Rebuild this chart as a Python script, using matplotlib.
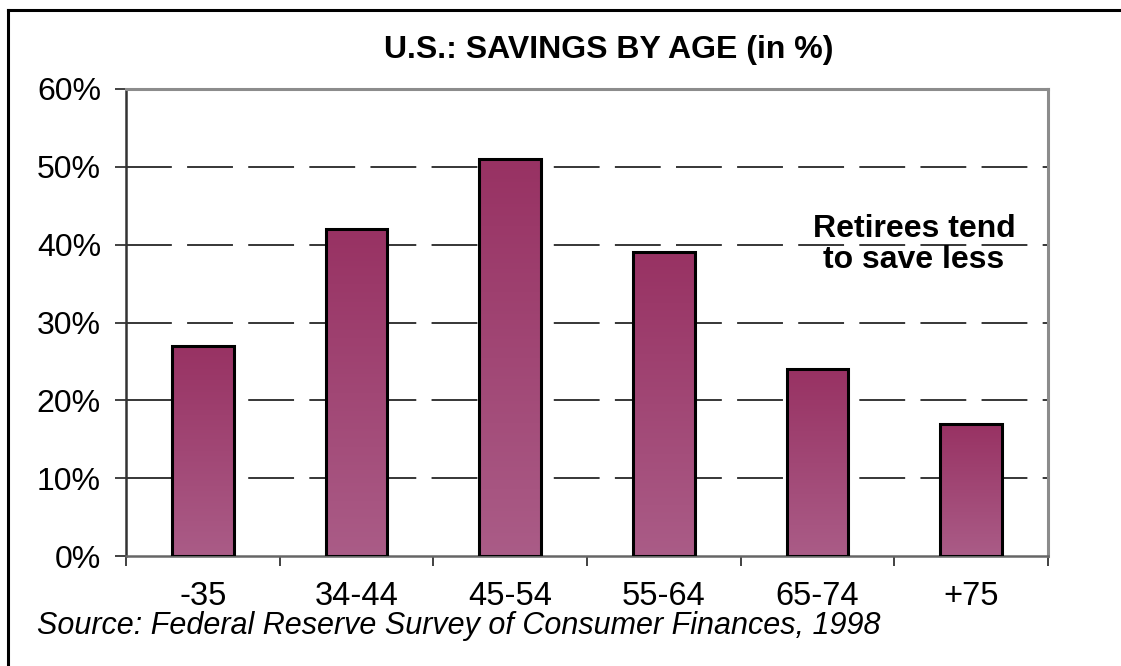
import numpy as np
import matplotlib
matplotlib.use("Agg")
import matplotlib.pyplot as plt
from matplotlib.colors import LinearSegmentedColormap
from matplotlib.lines import Line2D

# data
age_groups = ["-35", "34-44", "45-54", "55-64", "65-74", "+75"]
savings_pct = [27, 42, 51, 39, 24, 17]
y_ticks = [0, 10, 20, 30, 40, 50, 60]

plt.rcParams['font.family'] = ['Liberation Sans', 'DejaVu Sans']

W, H = 1121, 666
fig = plt.figure(figsize=(W / 100, H / 100), dpi=100)
fig.patch.set_facecolor("white")

# axes box in pixels: left 126, right 1048, top 89, bottom 556
ax = fig.add_axes([126 / W, (H - 556) / H, (1048 - 126) / W, (556 - 89) / H])

n = len(age_groups)
centers = np.arange(n) + 0.5
bar_w = 0.4

# gradient: dark magenta at top, lighter at bottom
cmap = LinearSegmentedColormap.from_list("bar", ["#aa5c87", "#983263"])
grad = np.linspace(0, 1, 256).reshape(-1, 1)

bars = ax.bar(centers, savings_pct, width=bar_w, facecolor="none",
              edgecolor="black", linewidth=2.2, zorder=4)
for b in bars:
    x0, y0 = b.get_x(), b.get_y()
    w, h = b.get_width(), b.get_height()
    im = ax.imshow(grad, cmap=cmap, aspect="auto", origin="lower",
                   extent=[x0, x0 + w, y0, y0 + h], zorder=3)
    im.set_clip_path(b)

# dashed grid lines
for t in y_ticks[1:-1]:
    ax.axhline(t, color="black", linewidth=1.1, linestyle=(0, (30, 10)), zorder=1)

ax.set_xlim(0, n)
ax.set_ylim(0, 60)

ax.set_yticks(y_ticks)
ax.set_yticklabels([f"{t}%" for t in y_ticks])
ax.tick_params(axis="y", direction="out", length=8, width=1.3, color="#333333",
               labelsize=23, pad=10)

ax.set_xticks(np.arange(n + 1))
ax.set_xticklabels([])
ax.tick_params(axis="x", which="major", direction="out", length=7.5, width=1.3,
               color="#333333")
ax.set_xticks(centers, minor=True)
ax.set_xticklabels(age_groups, minor=True)
ax.tick_params(axis="x", which="minor", length=0, labelsize=23.5, pad=18)

ax.spines["left"].set_color("#333333")
ax.spines["left"].set_linewidth(1.8)
ax.spines["bottom"].set_color("#666666")
ax.spines["bottom"].set_linewidth(1.8)
for s in ["top", "right"]:
    ax.spines[s].set_color("#8c8c8c")
    ax.spines[s].set_linewidth(2.2)

fig.text(609 / W, 1 - 58 / H, "U.S.: SAVINGS BY AGE (in %)", ha="center",
         va="baseline", fontsize=23, fontweight="bold")

fig.text(914 / W, 1 - 237 / H, "Retirees tend", ha="center", va="baseline",
         fontsize=23, fontweight="bold", zorder=5)
fig.text(914 / W, 1 - 268 / H, "to save less", ha="center", va="baseline",
         fontsize=23, fontweight="bold", zorder=5)

fig.text(37 / W, 1 - 634 / H, "Source: Federal Reserve Survey of Consumer Finances, 1998",
         ha="left", va="baseline", fontsize=22, style="italic")

# outer frame (top and left edges visible)
fig.add_artist(Line2D([7.5 / W, 7.5 / W], [0, 1 - 10 / H], color="black", linewidth=2.2))
fig.add_artist(Line2D([7.5 / W, 1], [1 - 10 / H, 1 - 10 / H], color="black", linewidth=2.2))

fig.savefig("out.png", dpi=100)
